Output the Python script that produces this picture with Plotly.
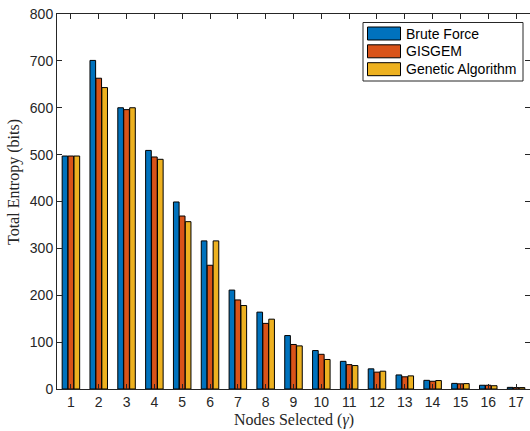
import plotly.graph_objects as go

categories = list(range(1, 18))
tick_labels = [str(c) for c in categories]
brute_force = [497, 701, 600, 509, 399, 316, 211, 164, 114, 82, 59, 43, 30, 18.5, 12, 8, 3.5]
gisgem = [497, 663, 596, 495, 369, 264, 190, 140, 95, 74, 52, 36, 26, 16.5, 11, 8, 3]
genetic = [497, 643, 600, 490, 357, 316, 178, 149, 92, 63, 50, 38, 28, 18, 11.5, 7, 3]
series_names = ["Brute Force", "GISGEM", "Genetic Algorithm"]
colors = ["#0072BD", "#D95319", "#EDB120"]

W, H = 530, 431
L, R, T, B = 57, 0, 14, 42
PW, PH = W - L - R, H - T - B

def px(x):
    return (x - L) / PW

def py(y):
    return (H - B - y) / PH

fig = go.Figure()
for name, vals, col in zip(series_names, [brute_force, gisgem, genetic], colors):
    fig.add_trace(go.Bar(x=categories, y=vals, name=name,
                         marker=dict(color=col, line=dict(color="#000000", width=1)),
                         showlegend=False))

axis_common = dict(showline=True, linecolor="#262626", linewidth=1, mirror="ticks",
                   ticks="inside", ticklen=5, tickcolor="#262626", showgrid=False,
                   zeroline=False, tickfont=dict(family="Liberation Sans, Arial", size=14, color="#262626"))

fig.update_xaxes(range=[0.5, 17.5], tickmode="array", tickvals=categories, ticktext=tick_labels,
                 **axis_common)
fig.update_yaxes(range=[0, 800], tickmode="array", tickvals=list(range(0, 801, 100)),
                 **axis_common)

shapes = []
annotations = []
# legend box
shapes.append(dict(type="rect", xref="paper", yref="paper",
                   x0=px(363), x1=px(523), y0=py(81), y1=py(22.5),
                   line=dict(color="#262626", width=1), fillcolor="white"))
rows = [33.5, 51.3, 69.2]
for name, col, yc in zip(series_names, colors, rows):
    shapes.append(dict(type="rect", xref="paper", yref="paper",
                       x0=px(367.5), x1=px(400.5), y0=py(yc + 6.5), y1=py(yc - 6.5),
                       line=dict(color="#000000", width=1), fillcolor=col))
    annotations.append(dict(xref="paper", yref="paper", x=px(404), y=py(yc),
                            xanchor="left", yanchor="middle", showarrow=False, text=name,
                            font=dict(family="Liberation Sans, Arial", size=14, color="#000000")))

annotations.append(dict(xref="paper", yref="paper", x=px(293.5), y=py(420),
                        xanchor="center", yanchor="middle", showarrow=False,
                        text="Nodes Selected (<i>γ</i>)",
                        font=dict(family="Liberation Serif, serif", size=16, color="#262626")))
annotations.append(dict(xref="paper", yref="paper", x=px(14), y=py(182),
                        xanchor="center", yanchor="middle", showarrow=False, textangle=-90,
                        text="Total Entropy (bits)",
                        font=dict(family="Liberation Serif, serif", size=16, color="#262626")))

fig.update_layout(width=W, height=H, margin=dict(l=L, r=R, t=T, b=B, pad=0),
                  paper_bgcolor="white", plot_bgcolor="white",
                  barmode="group", bargap=0.36, bargroupgap=0.05,
                  shapes=shapes, annotations=annotations, showlegend=False)

fig.write_html("out.html")
